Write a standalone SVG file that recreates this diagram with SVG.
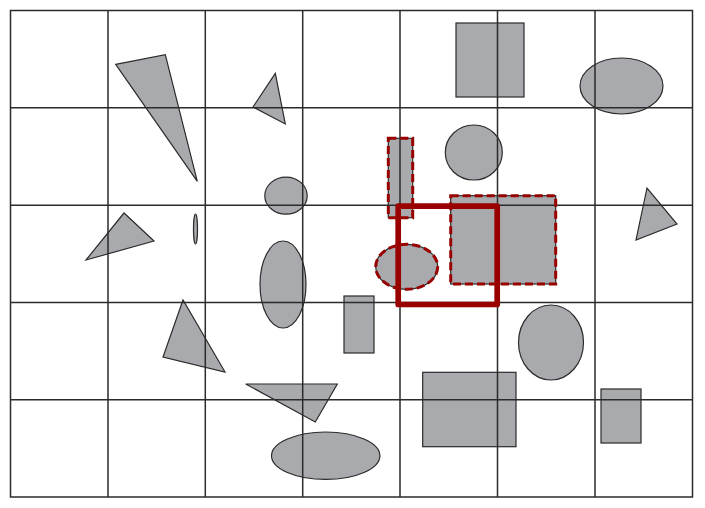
<svg xmlns="http://www.w3.org/2000/svg" width="705" height="508" viewBox="0 0 705 508">
<style>
.s{fill:#a9aaae;stroke:#2b2b2b;stroke-width:1.2}
.g{stroke:#2b2b2b;stroke-width:1.5;fill:none}
.d{fill:none;stroke:#990000;stroke-width:3;stroke-dasharray:8 4}
.r{fill:none;stroke:#990000;stroke-width:5.7;stroke-linejoin:round}
</style>
<rect width="705" height="508" fill="#fff"/>
<g id="shapes">
<polygon id="tri1" class="s" points="115.7,64.3 165.3,54.7 197.3,181.3"/>
<polygon id="tri2" class="s" points="275.3,73.3 253,107 285.3,124"/>
<ellipse id="ell1" class="s" cx="286" cy="195.7" rx="21.2" ry="18.5"/>
<ellipse id="ell2" class="s" cx="195.5" cy="229" rx="2" ry="15"/>
<polygon id="tri3" class="s" points="124,213 86,260 154,241"/>
<ellipse id="ell3" class="s" cx="283" cy="284.5" rx="23" ry="43.5"/>
<polygon id="tri4" class="s" points="183,300 163,357 225,372"/>
<rect id="rect1" class="s" x="344" y="296" width="30" height="57"/>
<polygon id="tri5" class="s" points="245.7,384 337.3,384 315.3,422"/>
<ellipse id="ell4" class="s" cx="325.7" cy="455.7" rx="54.2" ry="23.7"/>
<rect id="rect2" class="s" x="422.7" y="372.3" width="93.3" height="74.4"/>
<rect id="rect3" class="s" x="601" y="389" width="40" height="54"/>
<ellipse id="ell5" class="s" cx="551" cy="342.5" rx="32.5" ry="37.5"/>
<polygon id="tri6" class="s" points="647,188 636,240 677,224"/>
<ellipse id="ell6" class="s" cx="621.5" cy="86" rx="41.5" ry="28"/>
<rect id="rect4" class="s" x="456" y="23" width="68" height="74"/>
<ellipse id="ell7" class="s" cx="473.8" cy="152.5" rx="28.5" ry="27.5"/>
<rect id="rect5" class="s" x="388.3" y="138.3" width="24.4" height="79.4"/>
<rect id="rect6" class="s" x="450.7" y="195.7" width="105" height="88.3"/>
<ellipse id="ell8" class="s" cx="406.7" cy="266.8" rx="31" ry="22.5"/>
</g>
<g id="grid" class="g">
<rect x="10.5" y="10.5" width="682" height="486.5"/>
<path d="M108 10.5V497M205.3 10.5V497M302.7 10.5V497M400 10.5V497M497.5 10.5V497M595 10.5V497M10.5 107.8H692.5M10.5 205.2H692.5M10.5 302.5H692.5M10.5 399.8H692.5"/>
</g>
<g id="highlights">
<rect class="d" x="388.3" y="138.3" width="24.4" height="79.4"/>
<rect class="d" x="450.7" y="195.7" width="105" height="88.3"/>
<ellipse class="d" cx="406.7" cy="266.8" rx="31" ry="22.5"/>
<rect class="r" x="398.2" y="206.2" width="99" height="98.3"/>
</g>
</svg>
